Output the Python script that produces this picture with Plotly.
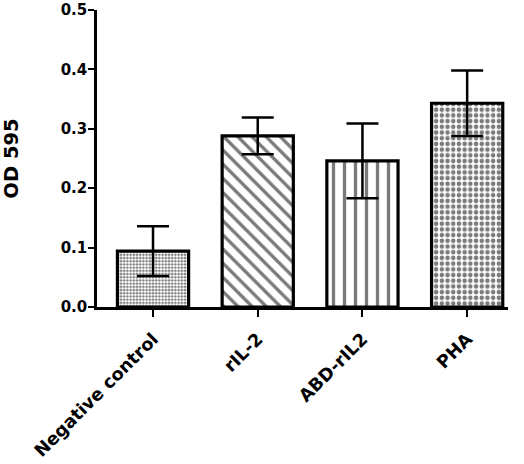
import plotly.graph_objects as go

categories = ["Negative control", "rIL-2", "ABD-rIL2", "PHA"]
means = [0.094, 0.288, 0.246, 0.343]
errors = [0.042, 0.031, 0.063, 0.055]
y_ticks = [0.0, 0.1, 0.2, 0.3, 0.4, 0.5]
y_title = "OD 595"

pattern_shapes = [".", "\\", "|", "."]
pattern_sizes = [3.2, 10, 11, 5.7]
pattern_solidity = [0.5, 0.33, 0.3, 0.5]

FONT = "DejaVu Sans, sans-serif"

fig = go.Figure()
fig.add_trace(go.Bar(
    x=categories,
    y=means,
    width=0.68,
    marker=dict(
        color="white",
        line=dict(color="black", width=3.2),
        pattern=dict(
            shape=pattern_shapes,
            size=pattern_sizes,
            solidity=pattern_solidity,
            fgcolor="#7a7a7a",
            bgcolor="white",
            fillmode="replace",
        ),
    ),
    error_y=dict(type="data", array=errors, visible=True,
                 color="black", thickness=2.5, width=16),
    showlegend=False,
    hoverinfo="skip",
))

fig.update_layout(
    width=524, height=464,
    margin=dict(l=97, r=16, t=10, b=157),
    plot_bgcolor="white", paper_bgcolor="white",
    font=dict(family=FONT, size=15, color="black"),
)
fig.update_xaxes(
    type="category",
    range=[-0.535, 3.39],
    automargin=False,
    showline=True, linecolor="black", linewidth=2.5,
    ticks="outside", ticklen=7, tickwidth=2.2, tickcolor="black",
    tickangle=-45,
    ticklabelstandoff=5,
    ticklabeloverflow="allow",
    tickfont=dict(family=FONT, size=17.7, color="black", weight="bold"),
    showgrid=False, zeroline=False,
)
fig.update_yaxes(
    range=[0, 0.5],
    automargin=False,
    tickvals=y_ticks,
    ticktext=[f"{v:.1f}" for v in y_ticks],
    showline=True, linecolor="black", linewidth=2.5,
    ticks="outside", ticklen=6, tickwidth=2.2, tickcolor="black",
    ticklabelstandoff=-2,
    ticklabeloverflow="allow",
    tickfont=dict(family=FONT, size=15, color="black", weight="bold"),
    title=dict(text=y_title, font=dict(family=FONT, size=19.5, color="black", weight="bold"), standoff=45),
    showgrid=False, zeroline=False,
)

fig.write_html("out.html", config={"displayModeBar": False},
               post_script="document.body.style.margin='0';")
